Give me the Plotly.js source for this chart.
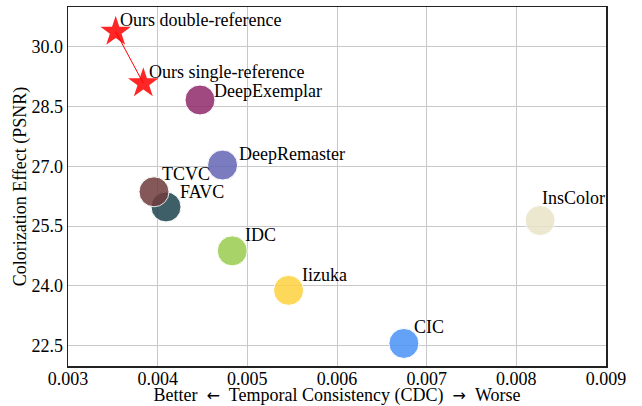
<!DOCTYPE html>
<html>
<head>
<meta charset="utf-8">
<script src="https://cdn.plot.ly/plotly-3.0.1.min.js"></script>
<style>html,body{margin:0;padding:0;background:#fff;}#chart{width:642px;height:406px;}</style>
</head>
<body>
<div id="chart"></div>
<script>
// Data
const oursNames = ["Ours double-reference", "Ours single-reference"];
const oursCDC = [0.003532, 0.003840];
const oursPSNR = [30.37, 29.08];

const methodNames = ["DeepExemplar", "DeepRemaster", "FAVC", "TCVC", "IDC", "Iizuka", "CIC", "InsColor"];
const methodCDC = [0.004472, 0.004724, 0.004093, 0.003959, 0.004832, 0.005460, 0.006746, 0.008265];
const methodPSNR = [28.66, 27.03, 25.98, 26.36, 24.88, 23.89, 22.56, 25.64];

const xTicks = [0.003, 0.004, 0.005, 0.006, 0.007, 0.008, 0.009];
const yTicks = [22.5, 24.0, 25.5, 27.0, 28.5, 30.0];

// Styles
const methodColors = ["#8f2a6a", "#6464b5", "#1d444d", "#6f3c3d", "#99cc50", "#fdd23f", "#4a92f6", "#e9e3c7"];
const oursShift = [[3.6, 12.2], [4.4, 11.5]];
const methodShift = [[13.3, 8.8], [15.6, 11.5], [13.3, 14.9], [6.6, 17.9], [12, 15.8], [12, 15.5], [8.7, 16.2], [0.4, 22.9]];

const serif = "Liberation Serif";
const arrow = s => "&nbsp;&nbsp;<span style='font-family:DejaVu Sans;font-size:16px'>" + s + "</span>&nbsp;&nbsp;";

const traces = [
  {
    type: "scatter", mode: "markers",
    x: methodCDC, y: methodPSNR,
    marker: {size: 30, color: methodColors, opacity: 0.85, line: {color: "#ffffff", width: 1}},
    hoverinfo: "skip", showlegend: false
  },
  {
    type: "scatter", mode: "lines+markers",
    x: oursCDC, y: oursPSNR,
    line: {color: "#ff0000", width: 1},
    marker: {symbol: "star", size: 23, color: "#ff0000", opacity: 0.85, line: {width: 0}},
    hoverinfo: "skip", showlegend: false
  }
];

const annotations = [];
oursNames.forEach((n, i) => annotations.push({
  x: oursCDC[i], y: oursPSNR[i], text: n, showarrow: false,
  xanchor: "left", yanchor: "middle", xshift: oursShift[i][0], yshift: oursShift[i][1],
  borderpad: 0, font: {family: serif, size: 18, color: "#000"}
}));
methodNames.forEach((n, i) => annotations.push({
  x: methodCDC[i], y: methodPSNR[i], text: n, showarrow: false,
  xanchor: "left", yanchor: "middle", xshift: methodShift[i][0], yshift: methodShift[i][1],
  borderpad: 0, font: {family: serif, size: 18, color: "#000"}
}));

const layout = {
  width: 642, height: 406,
  margin: {l: 68, r: 36, t: 7, b: 40},
  paper_bgcolor: "#fff", plot_bgcolor: "#fff",
  font: {family: serif, size: 18, color: "#000"},
  showlegend: false,
  hovermode: false,
  xaxis: {
    range: [0.003, 0.009],
    tickvals: xTicks, ticktext: xTicks.map(v => v.toFixed(3)),
    showgrid: true, gridcolor: "#c8c8c8", gridwidth: 1,
    zeroline: false, showline: true, mirror: true, linecolor: "#222", linewidth: 1.5,
    ticks: "", ticklabelstandoff: -4,
    tickfont: {family: serif, size: 18, color: "#000"},
    title: {text: "Better" + arrow("\u2190") + "Temporal Consistency (CDC)" + arrow("\u2192") + "Worse", font: {family: serif, size: 18, color: "#000"}, standoff: 6}
  },
  yaxis: {
    range: [21.995, 30.99],
    tickvals: yTicks, ticktext: yTicks.map(v => v.toFixed(1)),
    showgrid: true, gridcolor: "#c8c8c8", gridwidth: 1,
    zeroline: false, showline: true, mirror: true, linecolor: "#222", linewidth: 1.5,
    ticks: "", ticklabelstandoff: 0,
    tickfont: {family: serif, size: 18, color: "#000"},
    title: {text: "Colorization Effect (PSNR)", font: {family: serif, size: 18, color: "#000"}, standoff: 0}
  },
  annotations: annotations
};

Plotly.newPlot("chart", traces, layout, {displayModeBar: false, staticPlot: true});
</script>
</body>
</html>
